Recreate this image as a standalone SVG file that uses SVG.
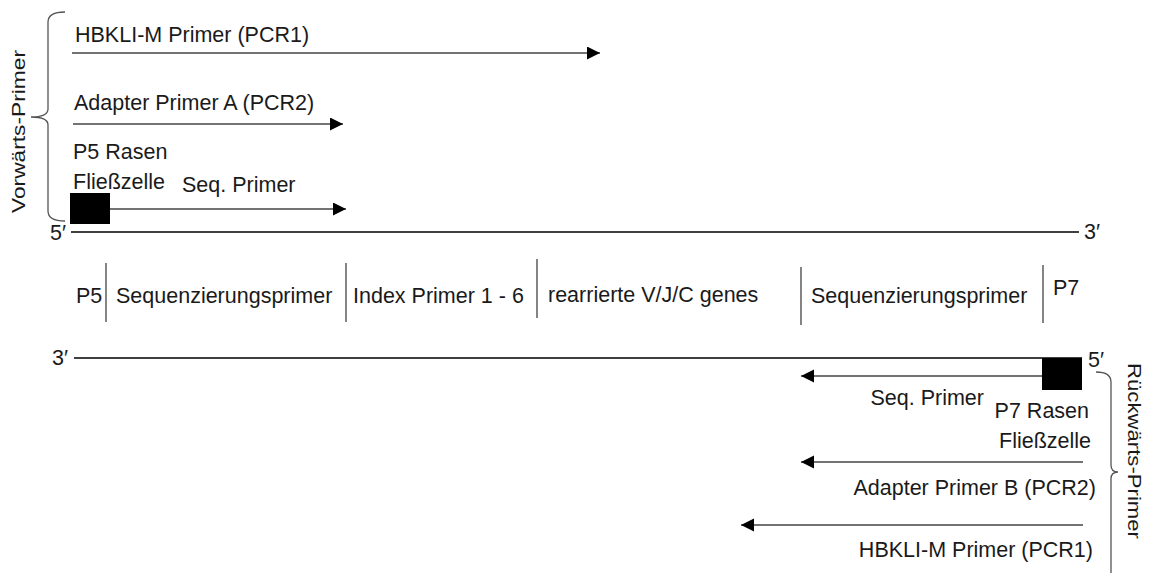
<svg xmlns="http://www.w3.org/2000/svg" width="1151" height="573" viewBox="0 0 1151 573">
<defs>
<style>
text{font-family:"Liberation Sans",Arial,sans-serif;font-size:21.5px;fill:#1a1a1a}
.rot{font-size:17.5px}
.strand{stroke:#000;stroke-width:1.4;fill:none}
.arr{stroke:#444;stroke-width:1.4;fill:none;marker-end:url(#ah)}
.div{stroke:#333;stroke-width:1.2}
.brace{stroke:#555;stroke-width:1.3;fill:none}
.box{fill:#000}
</style>
<marker id="ah" markerUnits="userSpaceOnUse" markerWidth="14" markerHeight="14" refX="13" refY="6.5" orient="auto">
<path d="M0,0 L13,6.5 L0,13 z" fill="#000"/>
</marker>
</defs>
<rect width="1151" height="573" fill="#fff"/>

<g id="forward-brace">
<path class="brace" d="M65,12 Q48,12 48,22 L48,109 Q48,117 31,117 Q48,117 48,125 L48,211 Q48,221 65,221"/>
<text class="rot" transform="translate(25,213) rotate(-90)" textLength="163" lengthAdjust="spacingAndGlyphs">Vorwärts-Primer</text>
</g>

<g id="reverse-brace">
<path class="brace" d="M1096,372 Q1111,372 1111,382 L1111,465 Q1111,472 1118,472 Q1111,472 1111,479 L1111,573"/>
<text class="rot" transform="translate(1128,363) rotate(90)" textLength="176" lengthAdjust="spacingAndGlyphs">Rückwärts-Primer</text>
</g>

<g id="fwd-hbkli">
<text x="75" y="42">HBKLI-M Primer (PCR1)</text>
</g>
<g id="fwd-adapter">
<text x="74" y="110">Adapter Primer A (PCR2)</text>
</g>
<g id="p5-flowcell">
<rect class="box" x="70" y="193" width="40" height="31"/>
<text x="73" y="159">P5 Rasen</text>
<text x="73" y="189">Fließzelle</text>
</g>
<g id="fwd-seq">
<text x="182" y="192">Seq. Primer</text>
</g>

<g id="top-strand">
<text x="50" y="240">5′</text>
<text x="1084" y="239">3′</text>
</g>

<g id="segments">
<text x="76" y="303">P5</text>
<text x="116" y="303">Sequenzierungsprimer</text>
<text x="353" y="303">Index Primer 1 - 6</text>
<text x="548" y="302">rearrierte V/J/C genes</text>
<text x="811" y="303">Sequenzierungsprimer</text>
<text x="1053" y="295">P7</text>
<line class="div" x1="106" y1="263" x2="106" y2="322"/>
<line class="div" x1="346" y1="263" x2="346" y2="322"/>
<line class="div" x1="537" y1="259" x2="537" y2="318"/>
<line class="div" x1="801" y1="267" x2="801" y2="325"/>
<line class="div" x1="1043" y1="265" x2="1043" y2="323"/>
</g>

<g id="bottom-strand">
<text x="52" y="365">3′</text>
<text x="1088" y="367">5′</text>
</g>

<g id="p7-flowcell">
<rect class="box" x="1042" y="358" width="40" height="32"/>
<text x="1089" y="418" text-anchor="end">P7 Rasen</text>
<text x="1091" y="448" text-anchor="end">Fließzelle</text>
</g>
<g id="rev-seq">
<text x="984" y="405" text-anchor="end">Seq. Primer</text>
</g>
<g id="rev-adapter">
<text x="1096" y="495" text-anchor="end">Adapter Primer B (PCR2)</text>
</g>
<g id="rev-hbkli">
<text x="1093" y="557" text-anchor="end">HBKLI-M Primer (PCR1)</text>
</g>

<g id="connectors">
<line class="strand" x1="71" y1="232" x2="1079" y2="232"/>
<line class="strand" x1="74" y1="358" x2="1082" y2="358"/>
<line class="arr" x1="72" y1="53" x2="600" y2="53"/>
<line class="arr" x1="73" y1="124" x2="343" y2="124"/>
<line class="arr" x1="110" y1="209" x2="346" y2="209"/>
<line class="arr" x1="1042" y1="376" x2="801" y2="376"/>
<line class="arr" x1="1083" y1="462" x2="801" y2="462"/>
<line class="arr" x1="1083" y1="525" x2="741" y2="525"/>
</g>
</svg>
